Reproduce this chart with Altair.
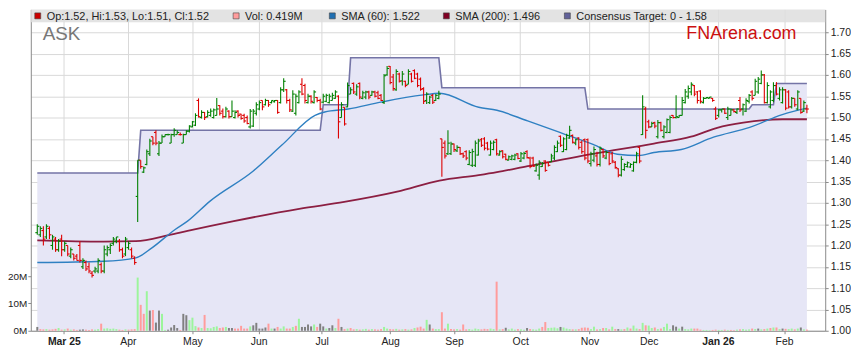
import altair as alt
import pandas as pd

# ---------------- data ----------------
# daily bars: (open, high, low, close)
BARS_FEB_MAR = [
    (1.230, 1.250, 1.225, 1.245), (1.225, 1.245, 1.220, 1.240), (1.235, 1.245, 1.200, 1.215),
    (1.220, 1.250, 1.215, 1.245), (1.240, 1.245, 1.215, 1.225), (1.200, 1.225, 1.190, 1.220),
    (1.215, 1.220, 1.185, 1.190), (1.190, 1.215, 1.185, 1.210), (1.215, 1.225, 1.175, 1.190),
    (1.190, 1.210, 1.185, 1.205), (1.200, 1.200, 1.175, 1.180), (1.175, 1.195, 1.170, 1.190),
    (1.180, 1.180, 1.165, 1.170), (1.175, 1.180, 1.165, 1.165), (1.200, 1.210, 1.160, 1.165),
    (1.150, 1.170, 1.145, 1.165), (1.160, 1.165, 1.140, 1.145), (1.150, 1.160, 1.135, 1.140),
    (1.135, 1.140, 1.125, 1.130), (1.140, 1.150, 1.135, 1.145), (1.140, 1.170, 1.135, 1.165),
    (1.155, 1.160, 1.135, 1.140), (1.140, 1.200, 1.135, 1.190), (1.180, 1.200, 1.175, 1.195),
    (1.190, 1.205, 1.180, 1.200), (1.205, 1.220, 1.200, 1.215), (1.210, 1.220, 1.205, 1.220),
    (1.210, 1.215, 1.185, 1.190), (1.190, 1.195, 1.170, 1.175), (1.180, 1.220, 1.175, 1.215),
    (1.195, 1.210, 1.190, 1.205), (1.190, 1.195, 1.170, 1.175), (1.170, 1.175, 1.155, 1.160),
]
BARS_APR = [
    (1.315, 1.400, 1.255, 1.400), (1.400, 1.400, 1.380, 1.385), (1.372, 1.385, 1.370, 1.382),
    (1.390, 1.425, 1.388, 1.420), (1.415, 1.450, 1.410, 1.445), (1.455, 1.455, 1.435, 1.440),
    (1.465, 1.470, 1.435, 1.440), (1.415, 1.445, 1.410, 1.440), (1.440, 1.460, 1.440, 1.455),
    (1.455, 1.460, 1.455, 1.460), (1.460, 1.462, 1.458, 1.460), (1.440, 1.462, 1.440, 1.460),
    (1.460, 1.475, 1.455, 1.470), (1.460, 1.470, 1.460, 1.465), (1.460, 1.465, 1.458, 1.460),
    (1.440, 1.462, 1.440, 1.460), (1.460, 1.470, 1.460, 1.468), (1.468, 1.482, 1.465, 1.480),
    (1.478, 1.492, 1.477, 1.490), (1.482, 1.510, 1.480, 1.505), (1.540, 1.545, 1.500, 1.502),
]
BARS_MAY_JUL = [
    (1.500, 1.517, 1.498, 1.512), (1.512, 1.513, 1.494, 1.500), (1.502, 1.517, 1.500, 1.512),
    (1.505, 1.521, 1.502, 1.515), (1.500, 1.521, 1.498, 1.518), (1.505, 1.546, 1.505, 1.520),
    (1.528, 1.529, 1.505, 1.510), (1.515, 1.521, 1.498, 1.502), (1.502, 1.525, 1.500, 1.520),
    (1.515, 1.517, 1.498, 1.502), (1.502, 1.540, 1.502, 1.515), (1.500, 1.517, 1.498, 1.512),
    (1.515, 1.517, 1.500, 1.505), (1.508, 1.509, 1.495, 1.498), (1.505, 1.509, 1.488, 1.492),
    (1.500, 1.505, 1.484, 1.486), (1.478, 1.520, 1.474, 1.515), (1.480, 1.520, 1.478, 1.515),
    (1.510, 1.536, 1.505, 1.530), (1.520, 1.540, 1.517, 1.535), (1.540, 1.540, 1.517, 1.525),
    (1.530, 1.544, 1.528, 1.540), (1.540, 1.541, 1.525, 1.530), (1.535, 1.540, 1.533, 1.540),
    (1.537, 1.541, 1.535, 1.540), (1.540, 1.541, 1.509, 1.512), (1.535, 1.571, 1.533, 1.565),
    (1.565, 1.592, 1.560, 1.585), (1.565, 1.567, 1.533, 1.540), (1.540, 1.544, 1.513, 1.518),
    (1.515, 1.564, 1.513, 1.555), (1.510, 1.556, 1.505, 1.550), (1.535, 1.564, 1.533, 1.560),
    (1.578, 1.592, 1.552, 1.555), (1.575, 1.579, 1.533, 1.540), (1.535, 1.556, 1.533, 1.550),
    (1.550, 1.552, 1.533, 1.538), (1.535, 1.564, 1.533, 1.560), (1.547, 1.548, 1.536, 1.540),
    (1.540, 1.544, 1.517, 1.520), (1.536, 1.556, 1.533, 1.550), (1.538, 1.556, 1.536, 1.552),
    (1.535, 1.556, 1.533, 1.550), (1.540, 1.558, 1.540, 1.552), (1.545, 1.564, 1.544, 1.560),
    (1.550, 1.552, 1.451, 1.490), (1.500, 1.536, 1.500, 1.530), (1.524, 1.524, 1.481, 1.485),
    (1.525, 1.582, 1.524, 1.575),
]
BARS_JUL_AUG = [
    (1.555, 1.571, 1.555, 1.565), (1.580, 1.582, 1.555, 1.560), (1.555, 1.578, 1.551, 1.572),
    (1.580, 1.582, 1.543, 1.548), (1.545, 1.563, 1.543, 1.558), (1.548, 1.563, 1.543, 1.560),
    (1.560, 1.563, 1.543, 1.548), (1.552, 1.563, 1.551, 1.560), (1.560, 1.563, 1.547, 1.550),
    (1.558, 1.563, 1.543, 1.545), (1.552, 1.555, 1.539, 1.540), (1.535, 1.602, 1.532, 1.598),
    (1.600, 1.621, 1.598, 1.615), (1.620, 1.621, 1.578, 1.582), (1.595, 1.602, 1.563, 1.568),
    (1.565, 1.613, 1.563, 1.608), (1.602, 1.605, 1.582, 1.585), (1.586, 1.609, 1.575, 1.602),
    (1.585, 1.586, 1.571, 1.575), (1.578, 1.613, 1.578, 1.608), (1.602, 1.605, 1.582, 1.585),
    (1.610, 1.613, 1.590, 1.592), (1.602, 1.605, 1.571, 1.575), (1.590, 1.594, 1.563, 1.566),
    (1.568, 1.571, 1.532, 1.538), (1.540, 1.559, 1.532, 1.555), (1.535, 1.551, 1.532, 1.548),
    (1.552, 1.555, 1.532, 1.536), (1.540, 1.555, 1.539, 1.552), (1.545, 1.563, 1.543, 1.555),
    (1.450, 1.450, 1.361, 1.430),
]
BARS_SEP_NOV = [
    (1.440, 1.446, 1.404, 1.410), (1.415, 1.470, 1.412, 1.440), (1.415, 1.443, 1.412, 1.438),
    (1.438, 1.439, 1.419, 1.425), (1.422, 1.435, 1.419, 1.430), (1.430, 1.431, 1.412, 1.415),
    (1.415, 1.418, 1.405, 1.410), (1.420, 1.423, 1.400, 1.405), (1.390, 1.423, 1.388, 1.418),
    (1.388, 1.427, 1.384, 1.420), (1.388, 1.446, 1.384, 1.440), (1.412, 1.450, 1.411, 1.445),
    (1.448, 1.452, 1.431, 1.435), (1.450, 1.454, 1.423, 1.428), (1.440, 1.443, 1.423, 1.426),
    (1.412, 1.446, 1.411, 1.440), (1.425, 1.446, 1.423, 1.442), (1.448, 1.450, 1.411, 1.415),
    (1.412, 1.423, 1.411, 1.420), (1.422, 1.423, 1.404, 1.408), (1.414, 1.415, 1.400, 1.402),
    (1.400, 1.411, 1.400, 1.408), (1.402, 1.413, 1.400, 1.410), (1.402, 1.415, 1.400, 1.412),
    (1.415, 1.416, 1.402, 1.404), (1.398, 1.419, 1.396, 1.415), (1.405, 1.420, 1.402, 1.416),
    (1.420, 1.423, 1.404, 1.406), (1.405, 1.408, 1.381, 1.385), (1.405, 1.408, 1.384, 1.386),
    (1.375, 1.392, 1.373, 1.388), (1.365, 1.400, 1.354, 1.395), (1.385, 1.396, 1.384, 1.392),
    (1.398, 1.400, 1.373, 1.376), (1.395, 1.396, 1.385, 1.388), (1.396, 1.415, 1.396, 1.410),
    (1.405, 1.435, 1.400, 1.430), (1.420, 1.446, 1.419, 1.440), (1.456, 1.458, 1.431, 1.435),
    (1.420, 1.454, 1.419, 1.450), (1.425, 1.462, 1.423, 1.458), (1.452, 1.481, 1.450, 1.470),
    (1.458, 1.460, 1.439, 1.442), (1.440, 1.450, 1.435, 1.448), (1.452, 1.454, 1.425, 1.430),
    (1.442, 1.446, 1.415, 1.420), (1.448, 1.451, 1.400, 1.405), (1.448, 1.451, 1.393, 1.398),
    (1.392, 1.420, 1.385, 1.415), (1.400, 1.432, 1.395, 1.425), (1.410, 1.420, 1.385, 1.390),
    (1.390, 1.432, 1.385, 1.428), (1.425, 1.427, 1.405, 1.410), (1.405, 1.422, 1.402, 1.418),
    (1.418, 1.420, 1.388, 1.392), (1.415, 1.420, 1.393, 1.398), (1.395, 1.398, 1.380, 1.383),
    (1.380, 1.381, 1.360, 1.365), (1.365, 1.409, 1.362, 1.402), (1.378, 1.393, 1.375, 1.390),
    (1.385, 1.397, 1.383, 1.394), (1.384, 1.393, 1.382, 1.390), (1.375, 1.397, 1.373, 1.395),
    (1.395, 1.420, 1.393, 1.415), (1.430, 1.432, 1.393, 1.398), (1.460, 1.552, 1.459, 1.525),
    (1.520, 1.525, 1.451, 1.470), (1.490, 1.495, 1.475, 1.478), (1.478, 1.490, 1.478, 1.486),
    (1.488, 1.490, 1.475, 1.480),
]
BARS_DEC_FEB = [
    (1.455, 1.494, 1.451, 1.488), (1.488, 1.490, 1.467, 1.470), (1.455, 1.482, 1.451, 1.478),
    (1.465, 1.498, 1.463, 1.495), (1.465, 1.505, 1.463, 1.500), (1.505, 1.506, 1.498, 1.500),
    (1.500, 1.552, 1.498, 1.502), (1.500, 1.506, 1.500, 1.505), (1.505, 1.548, 1.505, 1.540),
    (1.535, 1.567, 1.533, 1.560), (1.550, 1.575, 1.544, 1.568), (1.560, 1.583, 1.552, 1.578),
    (1.575, 1.576, 1.550, 1.555), (1.560, 1.562, 1.533, 1.540), (1.562, 1.564, 1.533, 1.538),
    (1.535, 1.548, 1.533, 1.545), (1.545, 1.548, 1.545, 1.547), (1.545, 1.548, 1.545, 1.548),
    (1.545, 1.546, 1.537, 1.540), (1.520, 1.525, 1.494, 1.498), (1.505, 1.520, 1.500, 1.518),
    (1.518, 1.520, 1.512, 1.520), (1.520, 1.521, 1.508, 1.510), (1.500, 1.525, 1.494, 1.520),
    (1.505, 1.521, 1.505, 1.518), (1.518, 1.520, 1.512, 1.514), (1.512, 1.521, 1.508, 1.520),
    (1.540, 1.548, 1.513, 1.518), (1.520, 1.533, 1.505, 1.530), (1.515, 1.545, 1.513, 1.540),
    (1.538, 1.555, 1.533, 1.552), (1.560, 1.564, 1.540, 1.545), (1.552, 1.591, 1.552, 1.585),
    (1.560, 1.595, 1.556, 1.590), (1.580, 1.610, 1.578, 1.600), (1.600, 1.602, 1.533, 1.535),
    (1.535, 1.583, 1.533, 1.575), (1.525, 1.564, 1.521, 1.560), (1.540, 1.583, 1.536, 1.575),
    (1.575, 1.583, 1.552, 1.555), (1.545, 1.571, 1.540, 1.565), (1.535, 1.571, 1.533, 1.565),
    (1.565, 1.567, 1.517, 1.522), (1.560, 1.564, 1.521, 1.525), (1.525, 1.548, 1.521, 1.545),
    (1.545, 1.545, 1.525, 1.530), (1.520, 1.564, 1.517, 1.560), (1.545, 1.545, 1.509, 1.512),
    (1.515, 1.540, 1.513, 1.535), (1.520, 1.530, 1.510, 1.520),
]

# daily volume in millions of shares
VOLUME_M = [
    1.4, 0.6, 0.5, 0.6, 0.4, 0.5, 0.7, 1.0, 0.4, 0.5,
    0.8, 0.4, 0.5, 0.3, 0.4, 0.5, 0.4, 0.3, 0.5, 0.4,
    0.6, 2.6, 0.8, 0.9, 0.7, 0.8, 0.6, 0.4, 0.3, 0.5,
    0.4, 0.5, 0.6, 19.5, 9.5, 6.2, 14.5, 7.4, 7.6, 3.0,
    7.4, 6.2, 0.3, 0.4, 1.2, 2.1, 1.0, 0.3, 6.2, 5.7,
    3.9, 4.8, 1.7, 1.2, 1.0, 5.8, 1.0, 0.9, 1.4, 1.6,
    1.0, 1.2, 1.4, 1.0, 1.0, 0.8, 0.8, 1.8, 0.8, 0.8,
    1.6, 2.0, 2.9, 0.8, 0.8, 1.2, 2.6, 0.8, 0.8, 1.4,
    0.8, 1.6, 0.8, 0.8, 1.4, 1.8, 4.4, 1.4, 1.4, 2.3,
    1.6, 2.3, 1.4, 2.6, 1.6, 0.8, 1.0, 2.0, 1.0, 4.4,
    1.4, 0.6, 0.8, 1.0, 0.5, 0.6, 0.4, 0.5, 0.7, 0.4,
    0.6, 0.5, 0.4, 0.6, 1.4, 0.8, 0.6, 0.5, 0.7, 0.4,
    0.5, 0.6, 0.4, 0.5, 1.0, 1.2, 1.5, 0.8, 4.0, 2.3,
    0.8, 0.6, 0.6, 6.8, 0.8, 2.6, 0.6, 0.5, 0.6, 0.4,
    2.3, 0.5, 0.6, 0.4, 0.8, 0.6, 0.5, 0.7, 0.6, 0.8,
    0.6, 18.0, 0.5, 0.6, 1.1, 0.5, 0.8, 0.4, 0.6, 0.5,
    0.4, 1.0, 0.6, 0.5, 0.4, 0.8, 1.4, 3.2, 1.0, 1.1,
    1.2, 0.9, 1.4, 1.2, 0.8, 0.6, 0.5, 0.5, 0.6, 1.1,
    1.2, 1.1, 0.6, 1.5, 0.5, 0.6, 1.0, 1.0, 0.5, 1.5,
    0.6, 0.6, 0.5, 0.6, 1.2, 0.8, 1.9, 0.8, 0.6, 2.9,
    2.0, 1.9, 1.0, 1.2, 0.6, 0.8, 1.4, 2.6, 0.6, 2.0,
    1.5, 0.8, 1.5, 0.6, 0.5, 0.8, 0.8, 0.8, 0.4, 0.3,
    0.3, 0.2, 0.3, 0.4, 0.3, 0.3, 0.4, 0.3, 0.3, 0.2,
    0.4, 0.5, 0.6, 0.4, 0.5, 0.8, 0.6, 0.8, 0.5, 0.6,
    0.8, 1.0, 1.2, 1.2, 0.6, 0.8, 0.7, 0.6, 0.8, 0.5,
    0.8, 1.2, 0.5, 0.419,
]
# days whose volume bar is drawn grey
GRAY_VOLUME_DAYS = [0, 37, 40, 44, 45, 46, 48, 49, 63, 64, 72, 73, 74, 75, 87, 88, 89, 90,
                    93, 94, 96, 97, 100, 129, 154, 161, 172, 191, 210, 212, 237, 251]

# moving averages read at points along the lines: (trading-day index, value)
SMA60_POINTS = [
    (0, 1.160), (21.7, 1.163), (32.4, 1.171), (37.8, 1.195), (45.2, 1.237), (49.4, 1.257),
    (56.8, 1.304), (70.9, 1.374), (80.5, 1.436), (91.3, 1.505), (94.5, 1.513), (102.2, 1.520),
    (112.9, 1.536), (126.9, 1.553), (132.2, 1.557), (145.1, 1.524), (151.1, 1.517),
    (161.2, 1.492), (172.6, 1.463), (182.7, 1.437), (190.7, 1.414), (197.7, 1.411),
    (202.7, 1.418), (211.7, 1.425), (222.3, 1.454), (234.2, 1.477), (244.9, 1.507), (253, 1.522),
]
SMA200_POINTS = [
    (0, 1.212), (21.7, 1.209), (32.4, 1.210), (43.2, 1.224), (49.4, 1.234), (64.6, 1.257),
    (86.1, 1.286), (100.9, 1.302), (118.3, 1.326), (132.2, 1.352), (145.1, 1.365),
    (151.1, 1.372), (161.2, 1.386), (182.7, 1.415), (202.7, 1.439), (214.9, 1.455),
    (223.5, 1.476), (232.1, 1.488), (245, 1.496), (253, 1.496),
]

# consensus target: level and the trading day from which it applies
TARGET_LEVELS = [1.37, 1.47, 1.53, 1.64, 1.57, 1.52, 1.53, 1.58]
TARGET_FROM_DAY = [0, 34, 94, 103, 133, 181, 235, 243]

MONTH_TICKS = [8.75, 29.75, 51, 72.75, 93.5, 116, 137, 158.75, 181.5, 201, 223.75, 245.5]
MONTH_LABELS = ["Mar 25", "Apr", "May", "Jun", "Jul", "Aug", "Sep", "Oct", "Nov", "Dec",
                "Jan 26", "Feb"]
BOLD_LABELS = ["Mar 25", "Jan 26"]
PRICE_TICKS = [1.00, 1.05, 1.10, 1.15, 1.20, 1.25, 1.30, 1.35, 1.40, 1.45, 1.50, 1.55,
               1.60, 1.65, 1.70]
VOLUME_TICKS = [0, 10, 20]

# ---------------- layout ----------------
W, H = 801, 324
X_DOMAIN = [-0.5, 257.39]
P_DOMAIN = [1.0, 1.7535]
V_DOMAIN = [0, 117.8]
FONT = "Liberation Sans"

GREEN, RED = "#008000", "#dd0000"
VGREEN, VPINK, VGRAY = "#9cf59c", "#ff9c9c", "#808080"

# ---------------- frames ----------------
bars = BARS_FEB_MAR + BARS_APR + BARS_MAY_JUL + BARS_JUL_AUG + BARS_SEP_NOV + BARS_DEC_FEB
N = len(bars)
df = pd.DataFrame(bars, columns=["O", "H", "L", "C"])
df["i"] = list(range(N))
df["V"] = VOLUME_M[:N]

pcol, vcol = [], []
for k in range(N):
    o, c = bars[k][0], bars[k][3]
    p = bars[k - 1][3] if k > 0 else c
    up = c > o or (c == o and c >= p)
    pcol.append(GREEN if up else RED)
    if k in GRAY_VOLUME_DAYS or c == p:
        vcol.append(VGRAY)
    elif c > p:
        vcol.append(VGREEN)
    else:
        vcol.append(VPINK)
df["pcol"] = pcol
df["vcol"] = vcol

target = []
for k, start in enumerate(TARGET_FROM_DAY):
    end = TARGET_FROM_DAY[k + 1] if k + 1 < len(TARGET_FROM_DAY) else N
    target += [TARGET_LEVELS[k]] * (end - start)
df["target"] = target[:N]

sma60 = pd.DataFrame(SMA60_POINTS, columns=["i", "v"])
sma200 = pd.DataFrame(SMA200_POINTS, columns=["i", "v"])

xscale = alt.Scale(domain=X_DOMAIN, nice=False, zero=False)
pscale = alt.Scale(domain=P_DOMAIN, nice=False, zero=False)
vscale = alt.Scale(domain=V_DOMAIN, nice=False, zero=True)

label_expr = " : ".join(f"datum.value == {v} ? '{l}'" for v, l in zip(MONTH_TICKS, MONTH_LABELS)) + " : ''"
bold_test = " || ".join(f"datum.value == {v}" for v, l in zip(MONTH_TICKS, MONTH_LABELS) if l in BOLD_LABELS)

x_axis = alt.Axis(
    values=MONTH_TICKS, labelExpr=label_expr, title=None, orient="bottom",
    grid=True, gridColor="#d9d9d9", gridWidth=1,
    domainColor="#8a8a8a", tickColor="#8a8a8a", tickSize=3, labelPadding=3,
    labelFont=FONT, labelFontSize=10.5, labelColor="#222222", labelAngle=0,
    labelOverlap=False,
    labelFontWeight={"condition": {"test": bold_test, "value": "bold"}, "value": "normal"},
)
p_axis = alt.Axis(
    values=PRICE_TICKS, format=".2f", title=None, orient="right",
    grid=True, gridColor="#d9d9d9", gridWidth=1,
    domainColor="#8a8a8a", tickColor="#8a8a8a", tickSize=3, labelPadding=2,
    labelFont=FONT, labelFontSize=10.5, labelColor="#222222", labelOverlap=False,
)
v_axis = alt.Axis(
    values=VOLUME_TICKS, labelExpr="datum.value + 'M'", title=None, orient="left",
    grid=False, domainColor="#8a8a8a", tickColor="#8a8a8a", tickSize=3, labelPadding=1,
    labelFont=FONT, labelFontSize=10, labelColor="#222222",
)


def X(f="i"):
    return alt.X(f"{f}:Q", scale=xscale, axis=x_axis)


def PY(f, axis=p_axis):
    return alt.Y(f"{f}:Q", scale=pscale, axis=axis)


area = alt.Chart(df).mark_area(color="#e6e6f6").encode(
    x=X(), y=PY("target"), y2=alt.datum(1.0))
target_line = alt.Chart(df).mark_line(color="#7474a6", strokeWidth=1.6).encode(
    x=X(), y=PY("target"))
back = alt.layer(area, target_line)

volume = alt.Chart(df).mark_bar(size=2).encode(
    x=X(), y=alt.Y("V:Q", scale=vscale, axis=v_axis),
    color=alt.Color("vcol:N", scale=None))

sma200_line = alt.Chart(sma200).mark_line(color="#8c1f42", strokeWidth=1.8, interpolate="monotone").encode(
    x=X(), y=PY("v", None))
sma60_line = alt.Chart(sma60).mark_line(color="#2f80c2", strokeWidth=1.4, interpolate="monotone").encode(
    x=X(), y=PY("v", None))
hl = alt.Chart(df).mark_rule(strokeWidth=1.1).encode(
    x=X(), y=PY("L", None), y2="H:Q", color=alt.Color("pcol:N", scale=None))
open_tick = alt.Chart(df).transform_calculate(xo="datum.i - 0.65").mark_rule(strokeWidth=1.1).encode(
    x=X("xo"), x2="i:Q", y=PY("O", None), color=alt.Color("pcol:N", scale=None))
close_tick = alt.Chart(df).transform_calculate(xc="datum.i + 0.65").mark_rule(strokeWidth=1.1).encode(
    x=X(), x2="xc:Q", y=PY("C", None), color=alt.Color("pcol:N", scale=None))
front = alt.layer(sma200_line, sma60_line, hl, open_tick, close_tick)

# ---------------- header / titles ----------------
one = alt.Data(values=[{}])
last = bars[-1]
legend_items = [
    ("#cc0000", f"Op:{last[0]:.2f}, Hi:{last[1]:.2f}, Lo:{last[2]:.2f}, Cl:{last[3]:.2f}", 4),
    ("#ff9c9c", f"Vol: {VOLUME_M[N - 1]:.3f}M", 204),
    ("#1f6fb2", f"SMA (60): {SMA60_POINTS[-1][1]:.3f}", 301),
    ("#800024", f"SMA (200): {SMA200_POINTS[-1][1]:.3f}", 416),
    ("#62629a", f"Consensus Target: 0 - {TARGET_LEVELS[-1]:.2f}", 538),
]
deco = [alt.Chart(one).mark_rect(color="#dedede", opacity=0.85).encode(
    x=alt.value(0), x2=alt.value(W), y=alt.value(0), y2=alt.value(13))]
for col, txt, xpos in legend_items:
    deco.append(alt.Chart(one).mark_rect(color=col, stroke="#444444", strokeWidth=0.6).encode(
        x=alt.value(xpos), x2=alt.value(xpos + 6), y=alt.value(3.5), y2=alt.value(9.5)))
    deco.append(alt.Chart(one).mark_text(align="left", baseline="alphabetic", font=FONT,
                                         fontSize=11, color="#222222").encode(
        x=alt.value(xpos + 12), y=alt.value(10.5), text=alt.value(txt)))
deco.append(alt.Chart(one).mark_text(align="left", baseline="alphabetic", font=FONT,
                                     fontSize=19, color="#777777").encode(
    x=alt.value(12), y=alt.value(31), text=alt.value("ASK")))
deco.append(alt.Chart(one).mark_text(align="right", baseline="alphabetic", font=FONT,
                                     fontSize=18, color="#cc1010").encode(
    x=alt.value(772), y=alt.value(30), text=alt.value("FNArena.com")))

chart = alt.layer(back, volume, front, *deco).resolve_scale(y="independent").properties(
    width=W, height=H,
    autosize=alt.AutoSizeParams(type="none"),
    padding={"left": 23, "top": 0, "right": 26, "bottom": 23},
    background="white",
).configure_view(stroke=None)

chart.save("out.html", embed_options={"renderer": "svg", "actions": False})
